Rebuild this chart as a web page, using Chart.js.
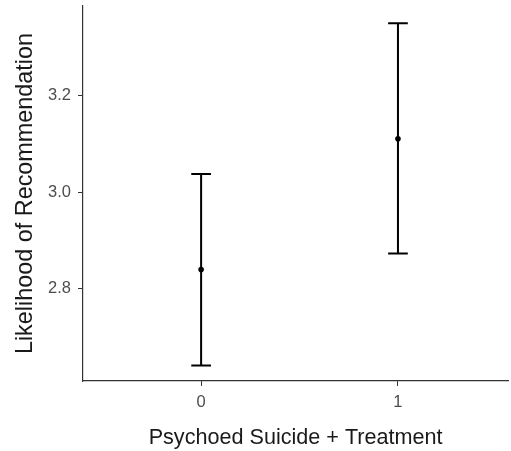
<!DOCTYPE html>
<html>
<head>
<meta charset="utf-8">
<script src="https://cdn.jsdelivr.net/npm/chart.js@4/dist/chart.umd.min.js"></script>
<style>
  body { margin: 0; background: #fff; }
  #wrap { width: 511px; height: 451px; }
</style>
</head>
<body>
<div id="wrap"><canvas id="chart"></canvas></div>
<script>
// Datos
const groups = [0, 1];
const means = [2.840, 3.111];
const lower = [2.641, 2.873];
const upper = [3.038, 3.350];
const xTicks = [0, 1];
const yTicks = [2.8, 3.0, 3.2];

const axisColor = '#333333';
const tickColor = '#4d4d4d';
const fontFamily = '"Liberation Sans", Arial, Helvetica, sans-serif';

// Plugin para dibujar las barras de error con las escalas del grafico
const errorBars = {
  id: 'errorBars',
  afterDatasetsDraw(chart) {
    const { ctx, scales: { x, y } } = chart;
    const capHalf = 0.05;
    ctx.save();
    ctx.strokeStyle = '#000';
    ctx.lineWidth = 2;
    for (let i = 0; i < groups.length; i++) {
      const px = x.getPixelForValue(groups[i]);
      const yLo = y.getPixelForValue(lower[i]);
      const yHi = y.getPixelForValue(upper[i]);
      const xl = x.getPixelForValue(groups[i] - capHalf);
      const xr = x.getPixelForValue(groups[i] + capHalf);
      ctx.beginPath();
      ctx.moveTo(px, yLo); ctx.lineTo(px, yHi);
      ctx.moveTo(xl, yLo); ctx.lineTo(xr, yLo);
      ctx.moveTo(xl, yHi); ctx.lineTo(xr, yHi);
      ctx.stroke();
    }
    ctx.restore();
  }
};

const config = {
  type: 'scatter',
  data: {
    datasets: [{
      data: groups.map((g, i) => ({ x: g, y: means[i] })),
      pointRadius: 2.8,
      pointBackgroundColor: '#000',
      pointBorderWidth: 0,
      pointHoverRadius: 2.8
    }]
  },
  options: {
    responsive: true,
    maintainAspectRatio: false,
    animation: false,
    layout: { padding: { top: 6, right: -3, left: 0, bottom: 0 } },
    plugins: {
      legend: { display: false },
      tooltip: { enabled: false }
    },
    scales: {
      x: {
        type: 'linear',
        min: -0.6,
        max: 1.56,
        afterBuildTicks: (scale) => { scale.ticks = xTicks.map(v => ({ value: v })); },
        afterFit: (scale) => {
          scale.height = 70;
          scale.paddingLeft = 0;
          scale.paddingRight = 0;
        },
        grid: { drawOnChartArea: false, color: axisColor, tickLength: 5, lineWidth: 1 },
        border: { display: true, color: axisColor, width: 1.2 },
        ticks: {
          color: tickColor,
          font: { family: fontFamily, size: 16.5 },
          padding: 7,
          callback: (v) => String(v)
        },
        title: {
          display: true,
          text: 'Psychoed Suicide + Treatment',
          color: '#1a1a1a',
          font: { family: fontFamily, size: 21.6 },
          padding: { top: 6, bottom: 0 }
        }
      },
      y: {
        min: 2.609,
        max: 3.386,
        afterBuildTicks: (scale) => { scale.ticks = yTicks.map(v => ({ value: v })); },
        afterFit: (scale) => {
          scale.width = 83;
          scale.paddingTop = 0;
          scale.paddingBottom = 0;
        },
        grid: { drawOnChartArea: false, color: axisColor, tickLength: 5, lineWidth: 1 },
        border: { display: true, color: axisColor, width: 1.2 },
        ticks: {
          color: tickColor,
          font: { family: fontFamily, size: 16.5 },
          padding: 7,
          callback: (v) => v.toFixed(1)
        },
        title: {
          display: true,
          text: 'Likelihood of Recommendation',
          color: '#1a1a1a',
          font: { family: fontFamily, size: 23.4 },
          padding: { top: 12, bottom: 0 }
        }
      }
    }
  },
  plugins: [errorBars]
};

new Chart(document.getElementById('chart'), config);
</script>
</body>
</html>
